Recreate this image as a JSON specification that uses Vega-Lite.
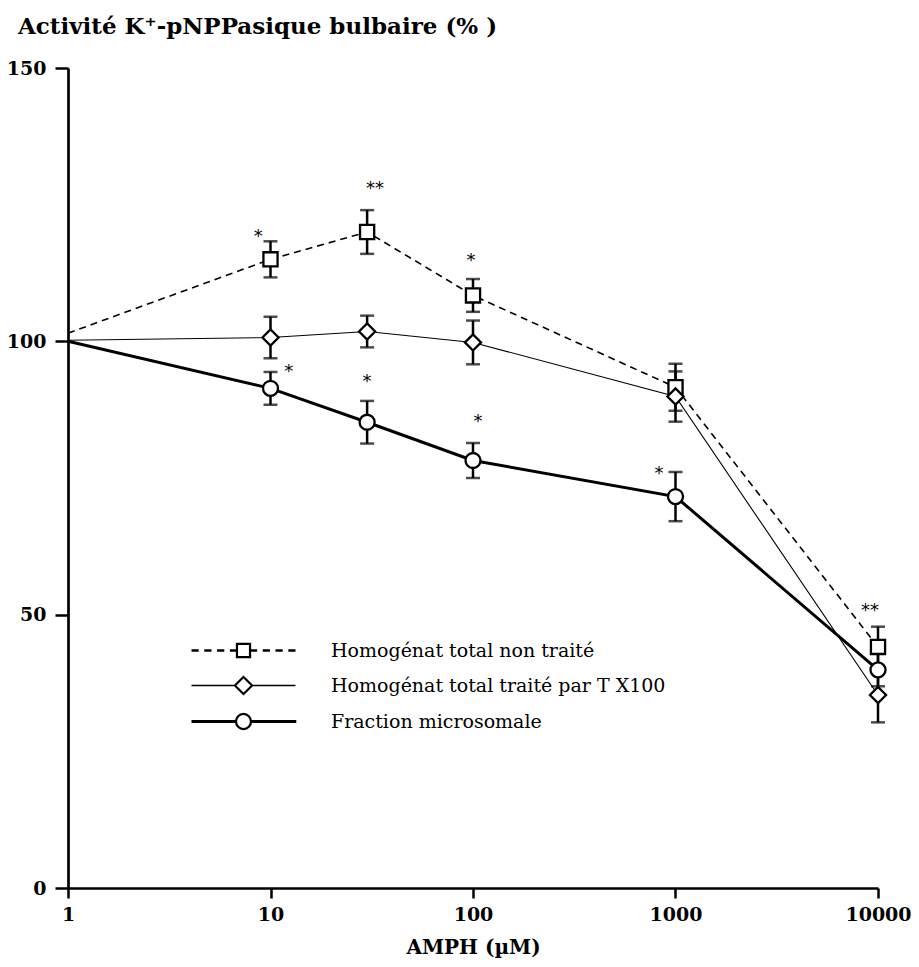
{
  "$schema": "https://vega.github.io/schema/vega-lite/v6.json",
  "width": 810,
  "height": 820,
  "autosize": {"type": "none"},
  "padding": {"left": 68, "top": 68, "right": 41, "bottom": 79},
  "background": "white",
  "config": {
    "view": {"stroke": null},
    "font": "DejaVu Serif",
    "axis": {"domainColor": "black", "tickColor": "black", "labelColor": "black", "titleColor": "black", "grid": false}
  },
  "title": {
    "text": "Activité K⁺-pNPPasique bulbaire (% )",
    "anchor": "start",
    "frame": "group",
    "dx": -50,
    "offset": 20,
    "font": "DejaVu Serif",
    "fontSize": 23,
    "fontWeight": "bold",
    "color": "black"
  },
  "datasets": {
    "pts": [
      {"series": "Homogénat total non traité", "x": 1, "y": 101.5, "err": 0},
      {"series": "Homogénat total non traité", "x": 10, "y": 115.0, "err": 3.3},
      {"series": "Homogénat total non traité", "x": 30, "y": 120.0, "err": 4.0},
      {"series": "Homogénat total non traité", "x": 100, "y": 108.4, "err": 3.0},
      {"series": "Homogénat total non traité", "x": 1000, "y": 91.6, "err": 4.3},
      {"series": "Homogénat total non traité", "x": 10000, "y": 44.1, "err": 3.7},
      {"series": "Homogénat total traité par T X100", "x": 1, "y": 100.2, "err": 0},
      {"series": "Homogénat total traité par T X100", "x": 10, "y": 100.7, "err": 3.8},
      {"series": "Homogénat total traité par T X100", "x": 30, "y": 101.8, "err": 2.9},
      {"series": "Homogénat total traité par T X100", "x": 100, "y": 99.8, "err": 4.0},
      {"series": "Homogénat total traité par T X100", "x": 1000, "y": 89.9, "err": 4.6},
      {"series": "Homogénat total traité par T X100", "x": 10000, "y": 35.3, "err": 5.0},
      {"series": "Fraction microsomale", "x": 1, "y": 100.0, "err": 0},
      {"series": "Fraction microsomale", "x": 10, "y": 91.4, "err": 3.0},
      {"series": "Fraction microsomale", "x": 30, "y": 85.2, "err": 3.9},
      {"series": "Fraction microsomale", "x": 100, "y": 78.2, "err": 3.2},
      {"series": "Fraction microsomale", "x": 1000, "y": 71.6, "err": 4.5},
      {"series": "Fraction microsomale", "x": 10000, "y": 39.9, "err": 3.0}
    ],
    "stars": [
      {"x": 8.7, "y": 119.8, "label": "*"},
      {"x": 32.8, "y": 128.6, "label": "**"},
      {"x": 97.8, "y": 115.4, "label": "*"},
      {"x": 12.3, "y": 95.1, "label": "*"},
      {"x": 30, "y": 93.3, "label": "*"},
      {"x": 106, "y": 86.0, "label": "*"},
      {"x": 829, "y": 76.5, "label": "*"},
      {"x": 9126, "y": 51.4, "label": "**"}
    ]
  },
  "data": {"name": "pts"},
  "encoding": {
    "x": {
      "field": "x",
      "type": "quantitative",
      "scale": {"type": "log", "domain": [1, 10000], "nice": false},
      "axis": {
        "title": "AMPH (µM)",
        "values": [1, 10, 100, 1000, 10000],
        "format": "d",
        "domainWidth": 2.7,
        "tickWidth": 2.5,
        "tickSize": 10,
        "labelPadding": 7,
        "labelFont": "DejaVu Serif",
        "labelFontWeight": "bold",
        "labelFontSize": 19,
        "labelFlush": false,
        "titleFont": "DejaVu Serif",
        "titleFontWeight": "bold",
        "titleFontSize": 20,
        "titlePadding": 13
      }
    },
    "y": {
      "field": "y",
      "type": "quantitative",
      "scale": {"domain": [0, 150], "nice": false},
      "axis": {
        "title": null,
        "values": [0, 50, 100, 150],
        "domainWidth": 2.7,
        "tickWidth": 2.5,
        "tickSize": 13,
        "labelPadding": 9,
        "labelFont": "DejaVu Serif",
        "labelFontWeight": "bold",
        "labelFontSize": 19
      }
    }
  },
  "layer": [
    {
      "transform": [{"filter": "datum.series == 'Homogénat total non traité'"}],
      "mark": {"type": "line", "color": "black", "strokeWidth": 1.6, "strokeDash": [7, 5]},
      "encoding": {}
    },
    {
      "transform": [{"filter": "datum.series == 'Homogénat total traité par T X100'"}],
      "mark": {"type": "line", "color": "black", "strokeWidth": 1.1},
      "encoding": {}
    },
    {
      "transform": [{"filter": "datum.series == 'Fraction microsomale'"}],
      "mark": {"type": "line", "color": "black", "strokeWidth": 3},
      "encoding": {}
    },
    {
      "transform": [{"filter": "datum.x > 1"}],
      "mark": {"type": "errorbar", "color": "black", "thickness": 2.5, "ticks": {"size": 14, "thickness": 2.5, "color": "black"}},
      "encoding": {
        "yError": {"field": "err"},
        "detail": {"field": "series"}
      }
    },
    {
      "transform": [{"filter": "datum.x > 1 && datum.series == 'Homogénat total non traité'"}],
      "mark": {"type": "point", "shape": "square", "size": 200, "filled": true, "fill": "white", "stroke": "black", "strokeWidth": 2.3, "opacity": 1}
    },
    {
      "transform": [{"filter": "datum.x > 1 && datum.series == 'Homogénat total traité par T X100'"}],
      "mark": {"type": "point", "shape": "diamond", "size": 260, "filled": true, "fill": "white", "stroke": "black", "strokeWidth": 2.3, "opacity": 1}
    },
    {
      "transform": [{"filter": "datum.x > 1 && datum.series == 'Fraction microsomale'"}],
      "mark": {"type": "point", "shape": "circle", "size": 225, "filled": true, "fill": "white", "stroke": "black", "strokeWidth": 2.3, "opacity": 1}
    },
    {
      "data": {"name": "stars"},
      "mark": {"type": "text", "font": "DejaVu Sans", "fontSize": 18, "dy": 4, "color": "black"},
      "encoding": {
        "text": {"field": "label"}
      }
    },
    {
      "transform": [{"filter": "false"}],
      "mark": {"type": "point", "filled": false, "color": "black", "strokeWidth": 1.3, "size": 256, "opacity": 1},
      "encoding": {
        "shape": {
          "field": "series",
          "type": "nominal",
          "scale": {
            "domain": ["Homogénat total non traité", "Homogénat total traité par T X100", "Fraction microsomale"],
            "range": [
              "M-6.5,-0.06H-5.6M-6.5,0.06H-5.6M-4.9,-0.06H-4.0M-4.9,0.06H-4.0M-3.3,-0.06H-2.4M-3.3,0.06H-2.4M-1.7,-0.06H-0.9M-1.7,0.06H-0.9M0.9,-0.06H1.7M0.9,0.06H1.7M2.4,-0.06H3.3M2.4,0.06H3.3M4.0,-0.06H4.9M4.0,0.06H4.9M5.6,-0.06H6.5M5.6,0.06H6.5M-0.875,-0.875H0.875V0.875H-0.875ZM-0.76,-0.76H0.76V0.76H-0.76Z",
              "M-6.5,0H-1.15M1.15,0H6.5M-1.15,0L0,-1.15L1.15,0L0,1.15ZM-1,0L0,-1L1,0L0,1Z",
              "M-6.5,-0.1H-1M1,-0.1H6.6M-6.5,0H-1M1,0H6.6M-6.5,0.1H-1M1,0.1H6.6M-1,0A1,1,0,1,0,1,0A1,1,0,1,0,-1,0ZM-0.88,0A0.88,0.88,0,1,0,0.88,0A0.88,0.88,0,1,0,-0.88,0Z"
            ]
          },
          "legend": {
            "title": null,
            "orient": "none",
            "legendX": 166,
            "legendY": 573,
            "padding": 0,
            "labelFont": "DejaVu Serif",
            "labelFontSize": 19,
            "labelColor": "black",
            "labelOffset": 78,
            "labelLimit": 0,
            "rowPadding": 12,
            "symbolSize": 256,
            "symbolStrokeWidth": 1.3,
            "symbolStrokeColor": "black",
            "symbolOpacity": 1
          }
        }
      }
    }
  ]
}
